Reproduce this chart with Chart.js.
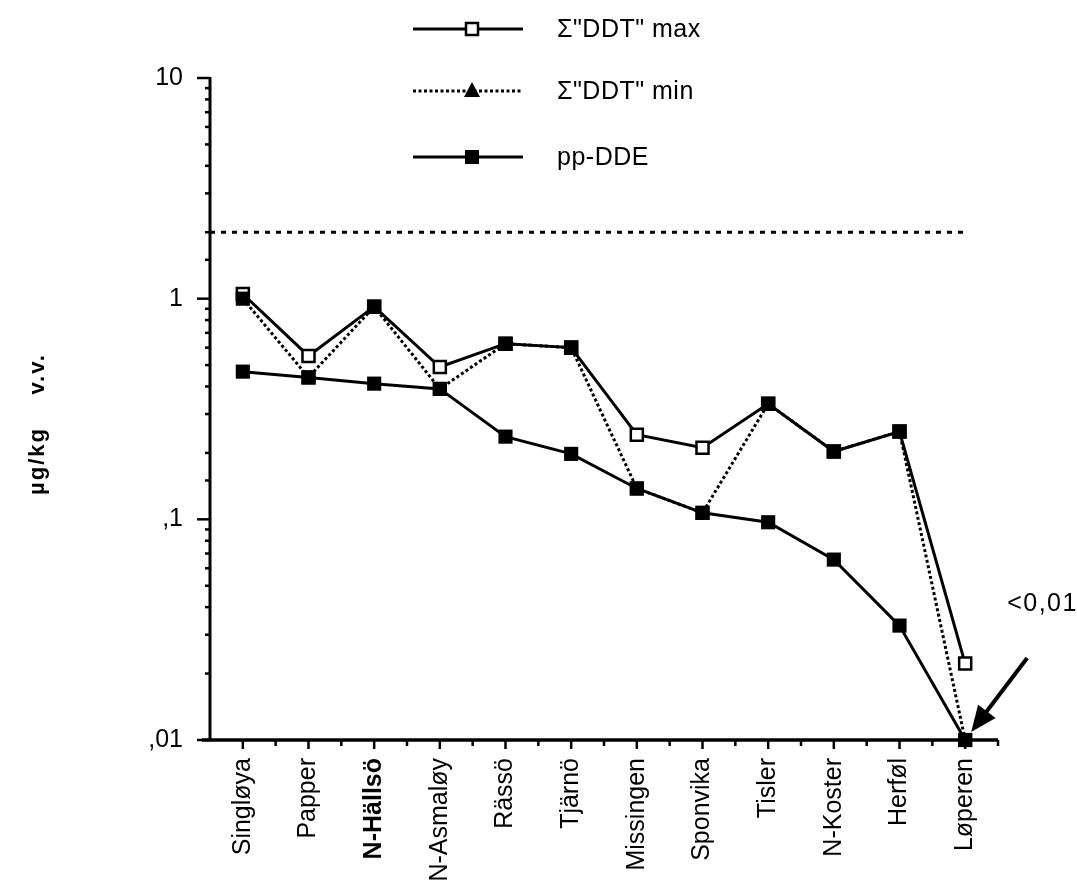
<!DOCTYPE html>
<html>
<head>
<meta charset="utf-8">
<script src="https://cdn.jsdelivr.net/npm/chart.js@4.4.1/dist/chart.umd.min.js"></script>
<style>
  html, body { margin: 0; padding: 0; background: #fff; }
  #wrap { width: 1077px; height: 890px; }
</style>
</head>
<body>
<div id="wrap"><canvas id="ddtChart" width="1077" height="890"></canvas></div>
<script>
// ---- data (µg/kg v.v.) ----
const stations = ["Singløya", "Papper", "N-Hällsö", "N-Asmaløy", "Rässö", "Tjärnö",
  "Missingen", "Sponvika", "Tisler", "N-Koster", "Herføl", "Løperen"];
const ddtMax = [1.05, 0.55, 0.92, 0.49, 0.625, 0.60, 0.242, 0.211, 0.334, 0.203, 0.25, 0.0222];
const ddtMin = [1.0, 0.44, 0.92, 0.39, 0.625, 0.60, 0.138, 0.107, 0.334, 0.203, 0.25, 0.01];
const ppDDE = [0.467, 0.439, 0.412, 0.39, 0.237, 0.198, 0.138, 0.107, 0.097, 0.0657, 0.033, 0.01];
const seriesNames = ['Σ"DDT" max', 'Σ"DDT" min', "pp-DDE"];
const yTickValues = [0.01, 0.1, 1, 10];
const yTickLabels = [",01", ",1", "1", "10"];
const limitValue = 2;
const belowLimitText = "<0,01";
const yTitle = "µg/kg    v.v.";
const boldStations = ["N-Hällsö"];

const FONT = "'Liberation Sans', Arial, sans-serif";

function isDecade(v) {
  const l = Math.log10(v);
  return Math.abs(l - Math.round(l)) < 1e-6;
}

// axes, ticks, limit line, legend, labels
const decorPlugin = {
  id: "decor",
  beforeDatasetsDraw(chart) {
    const { ctx, chartArea: a, scales: { x, y } } = chart;
    const ly = y.getPixelForValue(limitValue);
    ctx.save();
    ctx.strokeStyle = "#000";
    ctx.lineWidth = 3;
    ctx.setLineDash([5, 6]);
    ctx.beginPath();
    ctx.moveTo(a.left, ly);
    ctx.lineTo(x.getPixelForValue(stations.length - 1), ly);
    ctx.stroke();
    ctx.restore();
  },
  afterDraw(chart) {
    const { ctx, chartArea: a, scales: { x, y } } = chart;
    ctx.save();
    ctx.strokeStyle = "#000";
    ctx.fillStyle = "#000";

    // axis lines
    ctx.lineWidth = 3;
    ctx.beginPath();
    ctx.moveTo(a.left, a.top - 1);
    ctx.lineTo(a.left, a.bottom);
    ctx.stroke();
    ctx.lineWidth = 3.5;
    ctx.beginPath();
    ctx.moveTo(a.left - 8, a.bottom);
    ctx.lineTo(a.right, a.bottom);
    ctx.stroke();

    // y ticks (major + minor)
    ctx.lineWidth = 2.5;
    y.ticks.forEach(t => {
      const py = y.getPixelForValue(t.value);
      const len = isDecade(t.value) ? 13 : 5;
      ctx.beginPath();
      ctx.moveTo(a.left - len, py);
      ctx.lineTo(a.left, py);
      ctx.stroke();
    });

    // x ticks at stations and between them
    const step = (a.right - a.left) / stations.length;
    stations.forEach((s, i) => {
      const px = x.getPixelForValue(i);
      ctx.beginPath();
      ctx.moveTo(px, a.bottom);
      ctx.lineTo(px, a.bottom + 9);
      ctx.stroke();
    });
    for (let k = 1; k <= stations.length; k++) {
      const px = a.left + k * step;
      ctx.beginPath();
      ctx.moveTo(px, a.bottom);
      ctx.lineTo(px, a.bottom + 6);
      ctx.stroke();
    }

    // y title
    ctx.save();
    ctx.translate(38, (a.top + a.bottom) / 2 + 15);
    ctx.rotate(-Math.PI / 2);
    ctx.font = "bold 22px " + FONT;
    ctx.letterSpacing = "2px";
    ctx.textAlign = "center";
    ctx.textBaseline = "middle";
    ctx.fillText(yTitle, 0, 0);
    ctx.restore();

    // legend
    const legY = [29, 91, 157];
    const x0 = 413, x1 = 523, mx = 472;
    ctx.save();
    ctx.font = "25px " + FONT;
    ctx.letterSpacing = "0.5px";
    ctx.textAlign = "left";
    ctx.textBaseline = "middle";
    seriesNames.forEach((name, i) => {
      const ly = legY[i];
      ctx.lineWidth = 3;
      ctx.setLineDash(i === 1 ? [3, 2.5] : []);
      ctx.beginPath();
      ctx.moveTo(x0, ly);
      ctx.lineTo(x1, ly);
      ctx.stroke();
      ctx.setLineDash([]);
      if (i === 0) {
        ctx.fillStyle = "#fff";
        ctx.fillRect(mx - 6, ly - 6, 12, 12);
        ctx.lineWidth = 2.5;
        ctx.strokeRect(mx - 6, ly - 6, 12, 12);
        ctx.fillStyle = "#000";
      } else if (i === 1) {
        ctx.beginPath();
        ctx.moveTo(mx, ly - 9);
        ctx.lineTo(mx + 8, ly + 6);
        ctx.lineTo(mx - 8, ly + 6);
        ctx.closePath();
        ctx.fill();
      } else {
        ctx.fillRect(mx - 7, ly - 7, 14, 14);
      }
      ctx.fillText(name, 557, ly + 1);
    });
    ctx.restore();

    // "<0,01" note with arrow to Løperen
    const last = stations.length - 1;
    const tipX = x.getPixelForValue(last) + 6;
    const tipY = y.getPixelForValue(ppDDE[last]) - 8;
    const tailX = tipX + 56, tailY = tipY - 74;
    ctx.lineWidth = 4;
    ctx.beginPath();
    ctx.moveTo(tailX, tailY);
    ctx.lineTo(tipX + 12, tipY - 16);
    ctx.stroke();
    const ang = Math.atan2(tipY - tailY, tipX - tailX);
    const hl = 26, hw = 11;
    ctx.beginPath();
    ctx.moveTo(tipX, tipY);
    ctx.lineTo(tipX - hl * Math.cos(ang) + hw * Math.sin(ang), tipY - hl * Math.sin(ang) - hw * Math.cos(ang));
    ctx.lineTo(tipX - hl * Math.cos(ang) - hw * Math.sin(ang), tipY - hl * Math.sin(ang) + hw * Math.cos(ang));
    ctx.closePath();
    ctx.fill();
    ctx.font = "25px " + FONT;
    ctx.letterSpacing = "1.5px";
    ctx.textAlign = "left";
    ctx.textBaseline = "middle";
    ctx.fillText(belowLimitText, tailX - 20, tailY - 54);

    ctx.restore();
  }
};

new Chart(document.getElementById("ddtChart"), {
  type: "line",
  data: {
    labels: stations,
    datasets: [
      {
        label: seriesNames[0],
        data: ddtMax,
        order: 3,
        borderColor: "#000",
        borderWidth: 3,
        pointStyle: "rect",
        pointRadius: 8.5,
        pointBorderWidth: 2.5,
        pointBackgroundColor: "#fff",
        pointBorderColor: "#000",
        tension: 0,
        clip: false
      },
      {
        label: seriesNames[1],
        data: ddtMin,
        order: 2,
        borderColor: "#000",
        borderWidth: 3,
        borderDash: [3, 2.5],
        pointStyle: "rect",
        pointRadius: 10,
        pointBorderWidth: 0,
        pointBackgroundColor: "#000",
        tension: 0,
        clip: false
      },
      {
        label: seriesNames[2],
        data: ppDDE,
        order: 1,
        borderColor: "#000",
        borderWidth: 3,
        pointStyle: "rect",
        pointRadius: 10,
        pointBorderWidth: 0,
        pointBackgroundColor: "#000",
        tension: 0,
        clip: false
      }
    ]
  },
  options: {
    responsive: false,
    animation: false,
    devicePixelRatio: 1,
    layout: { padding: { top: 78, right: 79, left: 0, bottom: 0 } },
    plugins: {
      legend: { display: false },
      tooltip: { enabled: false }
    },
    scales: {
      x: {
        type: "category",
        offset: true,
        grid: { display: false, drawTicks: false },
        border: { display: false },
        afterFit: s => { s.height = 150; },
        ticks: {
          autoSkip: false,
          minRotation: 90,
          maxRotation: 90,
          padding: 18,
          color: "#000",
          font: c => ({
            family: FONT,
            size: 25,
            weight: boldStations.includes(stations[c.index]) ? "bold" : "normal"
          })
        }
      },
      y: {
        type: "logarithmic",
        min: 0.01,
        max: 10,
        grid: { display: false, drawTicks: false },
        border: { display: false },
        afterFit: s => { s.width = 210; },
        ticks: {
          autoSkip: false,
          padding: 27,
          color: "#000",
          font: { family: FONT, size: 25 },
          callback: v => {
            const i = yTickValues.findIndex(t => Math.abs(Math.log10(t) - Math.log10(v)) < 1e-6);
            return i >= 0 ? yTickLabels[i] : "";
          }
        }
      }
    }
  },
  plugins: [decorPlugin]
});
</script>
</body>
</html>
